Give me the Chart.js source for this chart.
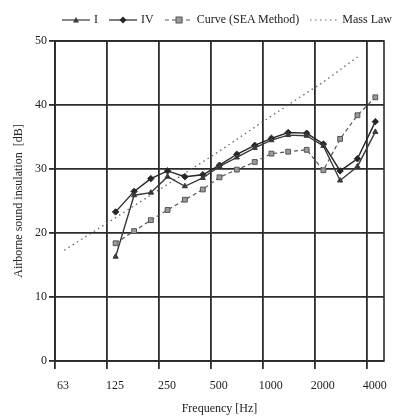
<!DOCTYPE html>
<html>
<head>
<meta charset="utf-8">
<script src="https://cdn.jsdelivr.net/npm/chart.js@4.4.0/dist/chart.umd.min.js"></script>
<style>
    body { margin: 0; background: #fff; }
    #wrap { position: relative; width: 403px; height: 416px; }
    #legend {
        position: absolute; top: 12px; left: 62px;
        display: flex; align-items: center;
        font: 12px "Liberation Serif", "DejaVu Serif", serif; color: #222;
        white-space: nowrap;
    }
    #legend .item { display: flex; align-items: center; margin-right: 11px; }
    #legend svg { margin-right: 4px; }
</style>
</head>
<body>
<div id="wrap">
    <canvas id="chart" width="403" height="416"></canvas>
    <div id="legend"></div>
</div>
<script>
// Chart data
const bandFreqs = [125, 160, 200, 250, 315, 400, 500, 630, 800, 1000, 1250, 1600, 2000, 2500, 3150, 4000];
const seriesI = [16.3, 25.9, 26.3, 28.8, 27.3, 28.6, 30.4, 31.8, 33.3, 34.5, 35.3, 35.2, 33.6, 28.2, 30.4, 35.8];
const seriesIV = [23.3, 26.5, 28.5, 29.7, 28.8, 29.1, 30.6, 32.3, 33.7, 34.8, 35.7, 35.6, 33.9, 29.7, 31.6, 37.4];
const seriesCurve = [18.4, 20.3, 22.0, 23.6, 25.2, 26.8, 28.7, 29.9, 31.1, 32.4, 32.7, 33.0, 29.8, 34.7, 38.4, 41.2];
const massFreqs = [63, 125, 250, 500, 1000, 2000, 3150];
const massLaw = [17.3, 22.4, 27.6, 32.8, 38.3, 43.6, 47.5];
const tickFreqs = ['63', '125', '250', '500', '1000', '2000', '4000'];
const yTicks = [0, 10, 20, 30, 40, 50];

// octave position, 62.5 Hz = 0
const oct = f => Math.log2(f / 62.5);
const toPts = (freqs, vals) => freqs.map((f, i) => ({ x: oct(f), y: vals[i] }));

const serif = '"Liberation Serif", "DejaVu Serif", serif';
const gridColor = '#2b2b2b';

// Frame around the plot area
const framePlugin = {
    id: 'frame',
    beforeDatasetsDraw(chart) {
        const { ctx, chartArea: a } = chart;
        ctx.save();
        ctx.strokeStyle = gridColor;
        ctx.lineWidth = 1.6;
        ctx.strokeRect(a.left, a.top, a.right - a.left, a.bottom - a.top);
        ctx.restore();
    }
};

const series = [
    { label: 'I', data: toPts(bandFreqs, seriesI), borderColor: '#3a3a3a', backgroundColor: '#3a3a3a',
      pointStyle: 'triangle', pointRadius: 3, borderWidth: 1.4, borderDash: [] },
    { label: 'IV', data: toPts(bandFreqs, seriesIV), borderColor: '#262626', backgroundColor: '#262626',
      pointStyle: 'rectRot', pointRadius: 3.2, borderWidth: 1.4, borderDash: [] },
    { label: 'Curve (SEA Method)', data: toPts(bandFreqs, seriesCurve), borderColor: '#555', backgroundColor: '#9a9a9a',
      pointStyle: 'rect', pointRadius: 3.4, borderWidth: 1.2, borderDash: [4, 3] },
    { label: 'Mass Law', data: toPts(massFreqs, massLaw), borderColor: '#666', backgroundColor: '#666',
      pointStyle: false, pointRadius: 0, borderWidth: 1.3, borderDash: [1.5, 3.5] }
];

new Chart(document.getElementById('chart'), {
    type: 'line',
    data: {
        datasets: series.map(s => ({
            label: s.label,
            data: s.data,
            borderColor: s.borderColor,
            backgroundColor: s.backgroundColor,
            pointBackgroundColor: s.backgroundColor,
            pointBorderColor: s.borderColor,
            pointBorderWidth: 1,
            pointStyle: s.pointStyle,
            pointRadius: s.pointRadius,
            borderWidth: s.borderWidth,
            borderDash: s.borderDash,
            tension: 0,
            fill: false
        }))
    },
    options: {
        responsive: false,
        animation: false,
        layout: { padding: { top: 41, right: 19, left: 12, bottom: 0 } },
        plugins: { legend: { display: false }, tooltip: { enabled: false } },
        scales: {
            x: {
                type: 'linear',
                min: -1 / 6,
                max: 6 + 1 / 6,
                afterBuildTicks: scale => {
                    // grid lines sit at the lower band edge of each octave
                    scale.ticks = tickFreqs.map((t, i) => ({ value: i - 1 / 6 }));
                },
                afterFit: scale => { scale.height = 55; },
                grid: { color: gridColor, lineWidth: 1.8, tickLength: 8, drawOnChartArea: true },
                border: { display: false },
                ticks: {
                    autoSkip: false, maxRotation: 0,
                    labelOffset: 8, padding: 10,
                    color: '#222', font: { family: serif, size: 12 },
                    callback: (v, i) => tickFreqs[i]
                },
                title: { display: true, text: 'Frequency [Hz]', color: '#222',
                         font: { family: serif, size: 12 }, padding: { top: 2, bottom: 0 } }
            },
            y: {
                min: 0, max: 50,
                afterBuildTicks: scale => { scale.ticks = yTicks.map(v => ({ value: v })); },
                afterFit: scale => { scale.width = 43; },
                grid: { color: gridColor, lineWidth: 1.8, tickLength: 6 },
                border: { display: false },
                ticks: { color: '#222', font: { family: serif, size: 12 }, padding: 2 },
                title: { display: true, text: 'Airborne sound insulation  [dB]', color: '#222',
                         font: { family: serif, size: 12 }, padding: { top: 0, bottom: 4 } }
            }
        }
    },
    plugins: [framePlugin]
});

// HTML legend with line + marker samples
const legendEl = document.getElementById('legend');
const markerSvg = {
    triangle: '<polygon points="14,2 17,7.5 11,7.5" fill="#3a3a3a"/>',
    rectRot: '<polygon points="14,1.5 17.5,5 14,8.5 10.5,5" fill="#262626"/>',
    rect: '<rect x="11" y="2" width="6" height="6" fill="#9a9a9a" stroke="#555" stroke-width="1"/>'
};
series.forEach(s => {
    const dash = s.borderDash.length ? `stroke-dasharray="${s.borderDash.join(',')}"` : '';
    const mark = s.pointStyle ? markerSvg[s.pointStyle] : '';
    const item = document.createElement('span');
    item.className = 'item';
    item.innerHTML = `<svg width="28" height="10"><line x1="0" y1="5" x2="28" y2="5" stroke="${s.borderColor}" stroke-width="1.2" ${dash}/>${mark}</svg><span>${s.label}</span>`;
    legendEl.appendChild(item);
});
</script>
</body>
</html>
